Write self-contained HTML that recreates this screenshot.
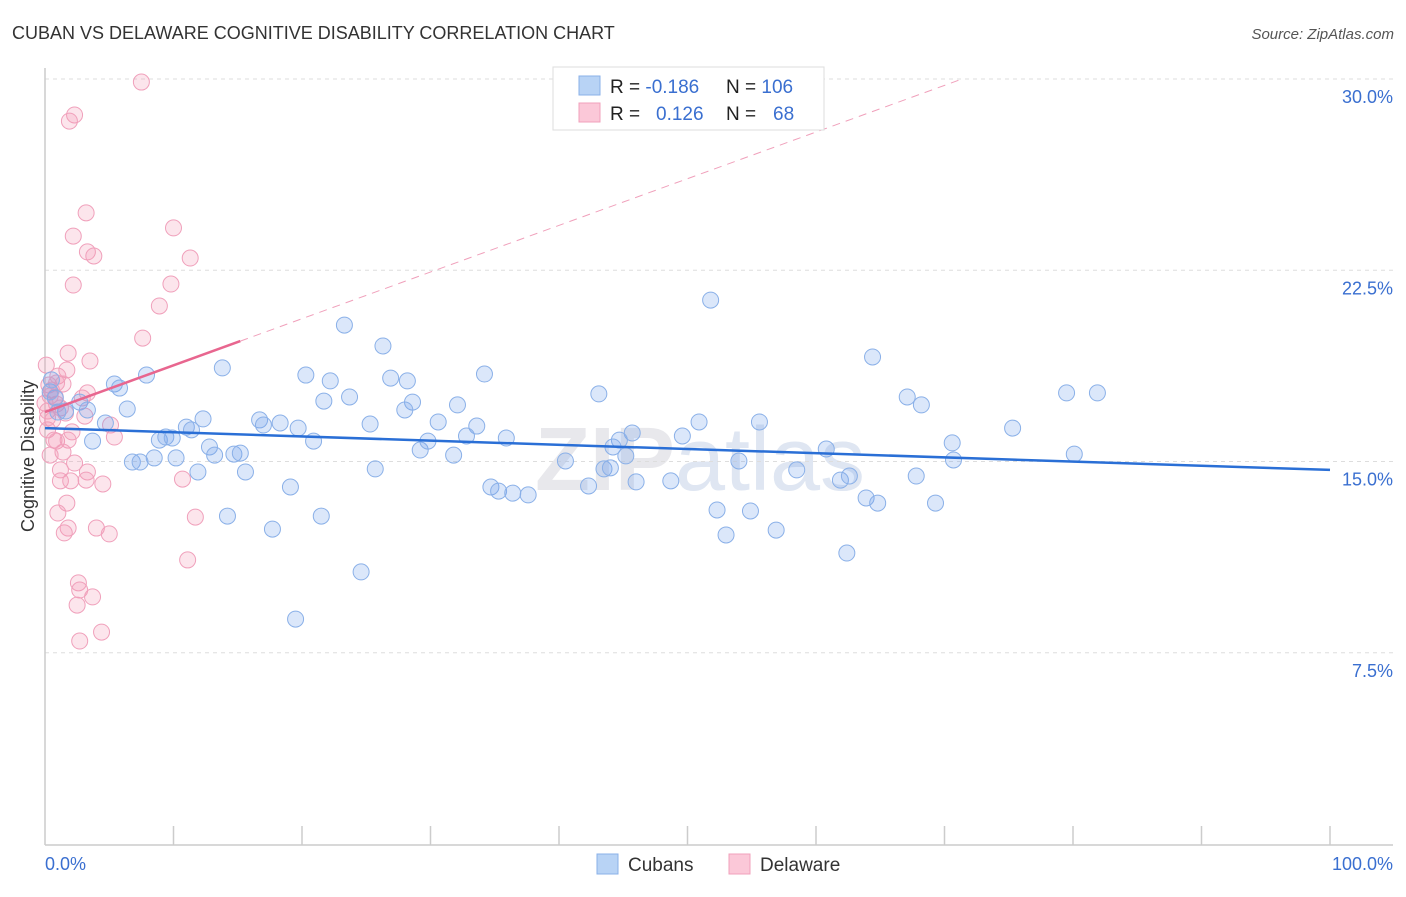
<!DOCTYPE html>
<html><head><meta charset="utf-8"><style>
body{margin:0;background:#fff;font-family:"Liberation Sans",sans-serif;}
svg text{font-family:"Liberation Sans",sans-serif;}
</style></head><body>
<svg width="1406" height="892" xmlns="http://www.w3.org/2000/svg">
<text x="12" y="39" font-size="18" fill="#333">CUBAN VS DELAWARE COGNITIVE DISABILITY CORRELATION CHART</text>
<text x="1394" y="39" font-size="15" fill="#555" font-style="italic" text-anchor="end">Source: ZipAtlas.com</text>
<text x="700" y="490" font-size="90" fill="#e8e8ec" text-anchor="middle" font-family="Liberation Serif" font-weight="bold">ZIP<tspan font-family="Liberation Sans" font-weight="normal" fill="#dfe6f2">atlas</tspan></text>
<g id="grid"></g>
<g id="axes"></g>
<text transform="translate(34,456) rotate(-90)" font-size="18" fill="#333" text-anchor="middle">Cognitive Disability</text>
<g id="pts"></g>
<g id="trend"></g>
<g>
<rect x="553" y="67" width="271" height="63" fill="#fff" stroke="#ddd"/>
<rect x="579" y="76" width="21" height="19" fill="#b8d3f5" stroke="#8ab0e8"/>
<rect x="579" y="103" width="21" height="19" fill="#fbc8d8" stroke="#f0a0bb"/>
<text x="610" y="93" font-size="19" fill="#222">R = <tspan fill="#3a6fd0">-0.186</tspan></text>
<text x="726" y="93" font-size="19" fill="#222">N = <tspan fill="#3a6fd0">106</tspan></text>
<text x="610" y="120" font-size="19" fill="#222">R = <tspan fill="#3a6fd0" x="656">0.126</tspan></text>
<text x="726" y="120" font-size="19" fill="#222">N = <tspan fill="#3a6fd0" x="773">68</tspan></text>
</g>
<g>
<rect x="597" y="854" width="21" height="20" fill="#b8d3f5" stroke="#8ab0e8"/>
<text x="628" y="871" font-size="19" fill="#333">Cubans</text>
<rect x="729" y="854" width="21" height="20" fill="#fbc8d8" stroke="#f0a0bb"/>
<text x="760" y="871" font-size="19" fill="#333">Delaware</text>
</g>
</svg>
<script>
const yTicks=[7.5,15,22.5,30];
const yTickLabels=["7.5%","15.0%","22.5%","30.0%"];
const xTickLabels=["0.0%","100.0%"];
const cubanX=[51.8,23.3,26.3,64.4,13.8,7.9,20.3,22.2,26.9,28.2,34.2,5.4,5.8,43.1,79.5,81.9,67.1,68.2,23.7,21.7,28.6,32.1,28.0,6.4,2.7,3.3,12.3,16.7,17.0,18.3,19.7,25.3,30.6,33.6,50.9,55.6,75.3,11.0,11.4,8.9,9.4,9.9,3.7,4.7,12.8,13.2,14.7,15.2,20.9,29.2,29.8,32.8,35.9,45.7,44.7,44.2,49.6,60.8,70.6,8.5,6.8,7.4,10.2,11.9,15.6,25.7,31.8,40.5,45.2,43.5,44.0,54.0,58.5,61.9,62.6,70.7,80.1,67.8,19.1,34.7,35.3,36.4,37.6,42.3,46.0,48.7,63.9,64.8,69.3,14.2,21.5,17.7,52.3,54.9,53.0,56.9,62.4,24.6,19.5,1.6,1.0,0.8,0.4,0.5];
const cubanY=[21.33,20.35,19.53,19.10,18.67,18.39,18.39,18.16,18.27,18.16,18.43,18.04,17.88,17.65,17.69,17.69,17.53,17.22,17.53,17.37,17.33,17.22,17.02,17.06,17.33,17.02,16.67,16.63,16.43,16.51,16.31,16.47,16.55,16.39,16.55,16.55,16.31,16.35,16.24,15.84,15.96,15.92,15.80,16.51,15.57,15.25,15.29,15.33,15.80,15.45,15.80,16.00,15.92,16.12,15.84,15.57,16.00,15.49,15.73,15.14,14.98,14.98,15.14,14.59,14.59,14.71,15.25,15.02,15.22,14.71,14.75,15.02,14.67,14.27,14.43,15.06,15.29,14.43,14.00,14.00,13.84,13.76,13.69,14.04,14.20,14.24,13.57,13.37,13.37,12.86,12.86,12.35,13.10,13.06,12.12,12.31,11.41,10.67,8.82,16.98,16.94,17.49,17.73,18.20];
const delX=[7.5,2.3,1.9,3.2,10.0,2.2,3.3,3.8,11.3,2.2,9.8,8.9,7.6,1.8,3.5,0.1,1.7,1.0,1.4,0.3,0.5,3.3,0.8,2.9,0.0,0.9,1.2,0.2,1.6,3.1,5.1,0.2,2.1,5.4,0.7,0.9,1.8,1.4,0.4,2.3,1.2,3.3,3.2,1.2,2.0,10.7,4.5,1.7,11.7,1.0,4.0,1.8,1.5,5.0,11.1,2.6,2.7,3.7,2.5,4.4,2.7,0.6,0.2,0.9,0.4];
const delY=[29.88,28.59,28.35,24.75,24.16,23.84,23.22,23.06,22.98,21.92,21.96,21.10,19.84,19.25,18.94,18.78,18.59,18.35,18.04,18.00,17.80,17.69,17.53,17.49,17.29,17.25,17.10,16.98,16.90,16.78,16.43,16.24,16.16,15.96,15.84,15.80,15.84,15.37,15.25,14.94,14.67,14.59,14.27,14.24,14.24,14.31,14.12,13.37,12.82,12.98,12.39,12.39,12.20,12.16,11.14,10.24,9.96,9.69,9.37,8.31,7.96,16.63,16.71,18.08,17.57];
const cubanTrend=[16.31,14.67];
const delTrendStart=16.94, delTrendSlope=0.183, delSolidEnd=15.2, delDashEnd=71.2;

const NS="http://www.w3.org/2000/svg";
const X0=45,X1=1330,Y0=844,YPER=25.5;
const sx=v=>X0+(X1-X0)*v/100;
const sy=v=>Y0-v*YPER;
function mk(tag,attrs,parent){const e=document.createElementNS(NS,tag);for(const k in attrs)e.setAttribute(k,attrs[k]);parent.appendChild(e);return e;}
const grid=document.getElementById('grid'),axes=document.getElementById('axes'),pts=document.getElementById('pts'),trend=document.getElementById('trend');
yTicks.forEach((t,i)=>{
  const l=mk('line',{x1:X0,x2:1393,y1:sy(t),y2:sy(t),stroke:'#ddd','stroke-dasharray':'4,4'},grid);
  
  
  const tx=mk('text',{x:1393,y:sy(t)+24,'font-size':18,fill:'#3a6fd0','text-anchor':'end'},axes);
  tx.textContent=yTickLabels[i];
  
  
});
let a=mk('line',{x1:X0,x2:X0,y1:68,y2:845,stroke:'#ccc','stroke-width':1.5},axes);


a=mk('line',{x1:X0,x2:1393,y1:845,y2:845,stroke:'#ccc','stroke-width':1.5},axes);


for(let i=1;i<=10;i++){
  const t=mk('line',{x1:sx(i*10),x2:sx(i*10),y1:826,y2:845,stroke:'#ccc','stroke-width':1.5},axes);
  
  
}
let xl=mk('text',{x:45,y:870,'font-size':18,fill:'#3a6fd0'},axes);xl.textContent=xTickLabels[0];


xl=mk('text',{x:1393,y:870,'font-size':18,fill:'#3a6fd0','text-anchor':'end'},axes);xl.textContent=xTickLabels[1];


delX.forEach((v,i)=>{
  const c=mk('circle',{cx:sx(v),cy:sy(delY[i]),r:8,fill:'rgba(245,150,180,0.25)',stroke:'#f0a0bb','stroke-width':1},pts);
  
  
});
cubanX.forEach((v,i)=>{
  const c=mk('circle',{cx:sx(v),cy:sy(cubanY[i]),r:8,fill:'rgba(110,160,235,0.25)',stroke:'#8ab0e8','stroke-width':1},pts);
  
  
});
let t=mk('line',{x1:sx(0),y1:sy(cubanTrend[0]),x2:sx(100),y2:sy(cubanTrend[1]),stroke:'#2a6fd6','stroke-width':2.5},trend);


const dy=x=>delTrendStart+delTrendSlope*x;
t=mk('line',{x1:sx(0),y1:sy(dy(0)),x2:sx(delSolidEnd),y2:sy(dy(delSolidEnd)),stroke:'#e8668f','stroke-width':2.5},trend);


t=mk('line',{x1:sx(delSolidEnd),y1:sy(dy(delSolidEnd)),x2:sx(delDashEnd),y2:sy(dy(delDashEnd)),stroke:'#f0a0bb','stroke-width':1,'stroke-dasharray':'8,6'},trend);


</script>
</body></html>
